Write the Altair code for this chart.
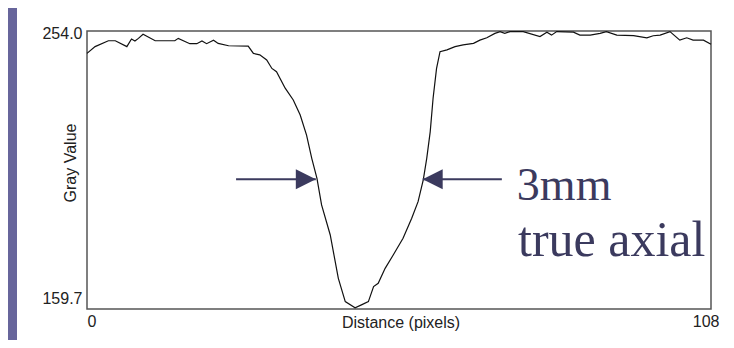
import altair as alt
import pandas as pd

# ---- data ----
distance = [0, 1.4, 3.7, 4.9, 6.9, 7.7, 8.3, 8.9, 9.7, 11.8, 15.2, 15.8, 17.8, 19.0, 19.9, 20.7,
            21.9, 22.7, 24.5, 27.9, 28.8, 29.9, 31.1, 32.0, 32.8, 34.3, 35.7, 36.9, 38.0, 38.9,
            39.8, 40.6, 42.1, 43.5, 44.7, 46.4, 47.5, 48.7, 49.6, 50.4, 51.6, 53.0, 54.7, 56.2,
            57.3, 58.2, 58.8, 59.4, 59.9, 60.5, 61.1, 62.3, 63.7, 65.1, 66.9, 68.0, 69.2, 70.6,
            71.5, 72.3, 73.2, 75.5, 78.4, 79.6, 80.4, 81.3, 84.2, 85.3, 87.1, 88.8, 89.9, 91.7,
            94.6, 96.9, 98.0, 99.2, 100.9, 102.6, 103.8, 104.9, 106.7, 108.0]
gray = [246.4, 248.7, 250.7, 250.7, 248.7, 251.3, 250.6, 251.5, 252.9, 250.7, 250.7, 251.5,
        249.7, 249.7, 250.6, 249.7, 250.9, 249.8, 249.0, 248.9, 246.4, 245.9, 244.2, 241.3,
        240.2, 234.6, 230.6, 225.5, 218.7, 210.8, 204.0, 195.0, 184.8, 170.1, 162.2, 160.1,
        161.1, 162.2, 167.3, 168.4, 173.5, 178.0, 183.7, 190.5, 196.1, 203.5, 210.8, 219.8,
        231.2, 241.3, 247.0, 247.6, 248.7, 249.3, 249.8, 250.9, 251.7, 253.2, 253.8, 253.2,
        253.8, 253.8, 252.1, 253.6, 252.6, 253.8, 253.6, 252.6, 252.6, 253.2, 253.8, 252.6,
        252.4, 251.7, 252.4, 252.6, 253.8, 250.9, 251.7, 250.9, 250.9, 249.5]

x_ticks = [0, 108]
y_ticks = [159.7, 254.0]

# annotation arrows (tail x, tip x, y) in data units
arrow_tail = [25.8, 71.8]
arrow_tip = [39.6, 58.1]
arrow_y = [203.7, 203.7]
arrow_shape = ["M0,0L-2,-1L-2,1Z", "M0,0L2,-1L2,1Z"]

label_lines = ["3mm", "true axial"]
label_x = [74.4, 74.6]
label_y = [196.7, 177.6]
label_size = [46, 50]

INK = "#3b3a5e"
PURPLE = "#67659b"

df = pd.DataFrame({"distance": distance, "gray": gray})
arrows = pd.DataFrame({"tail": arrow_tail, "tip": arrow_tip, "y": arrow_y, "shape": arrow_shape})
labels = pd.DataFrame({"text": label_lines, "x": label_x, "y": label_y, "size": label_size})

xscale = alt.Scale(domain=[0, 108], nice=False, zero=False)
yscale = alt.Scale(domain=[159.7, 254.0], nice=False, zero=False)

line = alt.Chart(df).mark_line(color="#111111", strokeWidth=1.2).encode(
    x=alt.X("distance:Q", scale=xscale,
            axis=alt.Axis(values=x_ticks, title="Distance (pixels)", labelFlush=False,
                          labelAlign={"condition": {"test": "datum.value < 50", "value": "left"}, "value": "right"},
                          labelOffset={"condition": {"test": "datum.value < 50", "value": 0}, "value": 8},
                          labelBaseline="top", labelPadding=4,
                          titleX=313.5, titleY=18.5, titleBaseline="alphabetic", titleAlign="center")),
    y=alt.Y("gray:Q", scale=yscale,
            axis=alt.Axis(values=y_ticks, format=".1f", title="Gray Value", labelFlush=False,
                          labelBaseline="middle", labelPadding=5,
                          labelOffset={"condition": {"test": "datum.value > 200", "value": 2}, "value": -11},
                          titleX=-11.5, titleY=131.5, titleAngle=270, titleBaseline="alphabetic",
                          titleAlign="center")),
)

strip = alt.Chart(pd.DataFrame({"a": [0]})).mark_rect(color=PURPLE).encode(
    x=alt.value(-79), x2=alt.value(-70), y=alt.value(-23), y2=alt.value(309)
)

rules = alt.Chart(arrows).mark_rule(color=INK, strokeWidth=2).encode(
    x=alt.X("tail:Q", scale=xscale), x2="tip:Q", y=alt.Y("y:Q", scale=yscale)
)

heads = alt.Chart(arrows).mark_point(filled=True, opacity=1, color=INK, size=400, strokeWidth=0).encode(
    x=alt.X("tip:Q", scale=xscale), y=alt.Y("y:Q", scale=yscale),
    shape=alt.Shape("shape:N", scale=None)
)

text = alt.Chart(labels).mark_text(font="Liberation Serif", color=INK,
                                   align="left", baseline="alphabetic").encode(
    x=alt.X("x:Q", scale=xscale), y=alt.Y("y:Q", scale=yscale), text="text:N",
    size=alt.Size("size:Q", scale=None)
)

chart = alt.layer(strip, line, rules, heads, text).properties(
    width=624, height=278,
    padding={"left": 79, "top": 23, "right": 15, "bottom": 31},
    autosize="none",
).configure(background="white").configure_view(
    stroke="#555555", strokeWidth=1.5
).configure_axis(
    grid=False, ticks=False, tickSize=0, domain=False,
    labelFont="Liberation Sans", labelFontSize=16, labelColor="#222222",
    titleFont="Liberation Sans", titleFontSize=16, titleFontWeight="normal", titleColor="#222222",
)

chart.save("out.html", embed_options={"renderer": "svg", "actions": False})
